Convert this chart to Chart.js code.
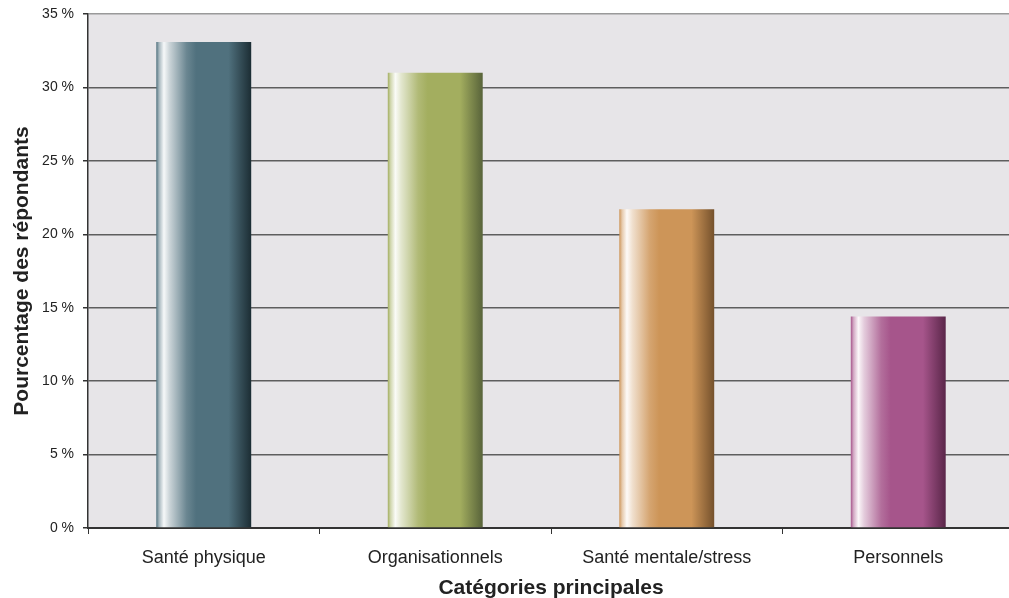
<!DOCTYPE html>
<html lang="fr">
<head>
<meta charset="utf-8">
<title>Catégories principales</title>
<script src="https://cdn.jsdelivr.net/npm/chart.js@4/dist/chart.umd.min.js"></script>
<style>
  html, body { margin: 0; padding: 0; background: #ffffff; overflow: hidden; }
  #wrap { width: 1014px; height: 598px; position: relative; }
</style>
</head>
<body>
<div id="wrap"><canvas id="graphique"></canvas></div>
<script>
// Données
const categories = ['Santé physique', 'Organisationnels', 'Santé mentale/stress', 'Personnels'];
const pourcentages = [33.1, 31.0, 21.7, 14.4];
const graduations = [0, 5, 10, 15, 20, 25, 30, 35];

// Teintes des barres : [base, sombre]
const teintes = [
    ['#50717e', '#1c2d34'],
    ['#a3ae5f', '#58633a'],
    ['#cd9558', '#75512c'],
    ['#a6558b', '#5a2649']
];

const largeurBarre = 0.41;

function eclaircir(hex, t) {
    let r = parseInt(hex.substr(1, 2), 16);
    let g = parseInt(hex.substr(3, 2), 16);
    let b = parseInt(hex.substr(5, 2), 16);
    r = Math.round(r + (255 - r) * t);
    g = Math.round(g + (255 - g) * t);
    b = Math.round(b + (255 - b) * t);
    return 'rgb(' + r + ',' + g + ',' + b + ')';
}

// Dégradé horizontal façon cylindre pour chaque barre
function degradeBarre(context) {
    const chart = context.chart;
    const i = context.dataIndex;
    const t = teintes[i % teintes.length];
    if (!chart.chartArea || !chart.scales.x) return t[0];
    const echelle = chart.scales.x;
    const centre = echelle.getPixelForValue(i);
    const larg = echelle.width / categories.length * largeurBarre;
    const x0 = centre - larg / 2;
    const x1 = centre + larg / 2;
    const g = chart.ctx.createLinearGradient(x0, 0, x1, 0);
    g.addColorStop(0, t[0]);
    g.addColorStop(0.03, eclaircir(t[0], 0.5));
    g.addColorStop(0.08, eclaircir(t[0], 0.95));
    g.addColorStop(0.14, eclaircir(t[0], 0.7));
    g.addColorStop(0.32, eclaircir(t[0], 0.15));
    g.addColorStop(0.42, t[0]);
    g.addColorStop(0.76, t[0]);
    g.addColorStop(1, t[1]);
    return g;
}

// Fond gris de la zone de tracé
const fondZone = {
    id: 'fondZone',
    beforeDraw(chart) {
        const a = chart.chartArea;
        const ctx = chart.ctx;
        ctx.save();
        ctx.fillStyle = '#e7e5e8';
        ctx.fillRect(a.left, a.top, a.right - a.left, a.bottom - a.top);
        ctx.restore();
    }
};

document.addEventListener('DOMContentLoaded', function () {
    let ctx = document.getElementById('graphique').getContext('2d');
    new Chart(ctx, {
        type: 'bar',
        data: {
            labels: categories,
            datasets: [{
                label: 'Pourcentage des répondants',
                data: pourcentages,
                backgroundColor: degradeBarre,
                borderWidth: 0,
                barPercentage: largeurBarre,
                categoryPercentage: 1
            }]
        },
        options: {
            responsive: true,
            maintainAspectRatio: false,
            animation: false,
            layout: { padding: { top: 14, right: 0, left: 0, bottom: 0 } },
            plugins: {
                legend: { display: false },
                tooltip: { enabled: false }
            },
            scales: {
                x: {
                    grid: {
                        offset: true,
                        drawOnChartArea: false,
                        drawTicks: true,
                        tickLength: 6,
                        color: '#333333',
                        lineWidth: 1
                    },
                    border: { color: '#333333', width: 2 },
                    ticks: {
                        color: '#222222',
                        font: { family: 'Liberation Sans', size: 18 },
                        padding: 13,
                        maxRotation: 0
                    },
                    title: {
                        display: true,
                        text: 'Catégories principales',
                        color: '#222222',
                        font: { family: 'Liberation Sans', size: 21, weight: 'bold' },
                        padding: { top: 10, bottom: -3 }
                    },
                    afterFit: function (s) {
                        s.height = 70;
                        s.paddingLeft = 0;
                        s.paddingRight = 0;
                    }
                },
                y: {
                    min: 0,
                    max: 35,
                    afterBuildTicks: function (s) {
                        s.ticks = graduations.map(v => ({ value: v }));
                    },
                    grid: {
                        color: function (c) {
                            if (c.tick && c.tick.value === 35) return '#9a9a9a';
                            return '#5e5e5e';
                        },
                        lineWidth: 1.5,
                        drawTicks: true,
                        tickLength: 5,
                        tickColor: '#333333'
                    },
                    border: { color: '#333333', width: 1.5 },
                    ticks: {
                        color: '#222222',
                        font: { family: 'Liberation Sans', size: 14 },
                        padding: 9,
                        callback: function (v) { return v + ' %'; }
                    },
                    title: {
                        display: true,
                        text: 'Pourcentage des répondants',
                        color: '#222222',
                        font: { family: 'Liberation Sans', size: 21, weight: 'bold' },
                        padding: { top: 10, bottom: 4 }
                    },
                    afterFit: function (s) {
                        s.width = 88;
                        s.paddingTop = 0;
                        s.paddingBottom = 0;
                    }
                }
            }
        },
        plugins: [fondZone]
    });
});
</script>
</body>
</html>
